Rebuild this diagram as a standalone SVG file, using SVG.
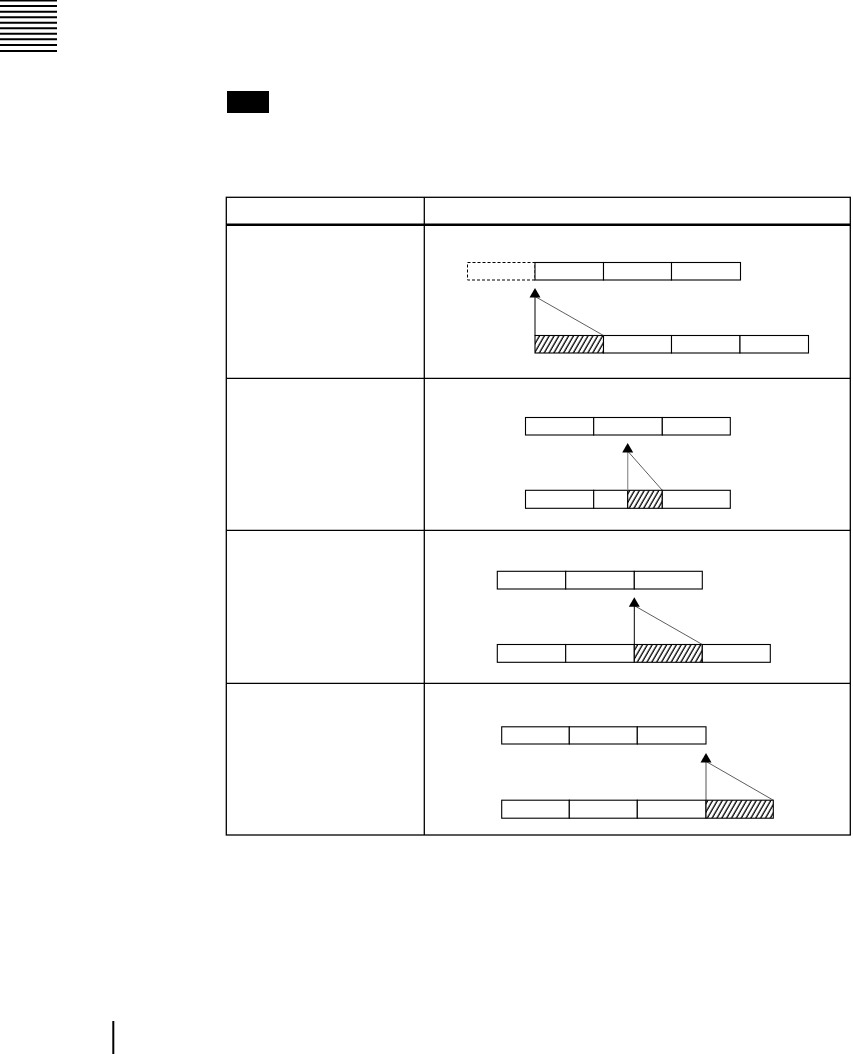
<svg xmlns="http://www.w3.org/2000/svg" width="853" height="1054" viewBox="0 0 853 1054">
<style>
.tbl{stroke:#000;stroke-width:1.3;fill:none}
.thick{stroke:#000;stroke-width:2.6;fill:none}
.box{stroke:#000;stroke-width:1.1;fill:#fff}
.dash{stroke:#000;stroke-width:1;fill:none;stroke-dasharray:3 2}
.hatch{stroke:#000;stroke-width:1.1;fill:url(#hatch)}
.up{stroke:#000;stroke-width:1;fill:none}
.diag{stroke:#333;stroke-width:0.8;fill:none}
.hdr{stroke:#000;stroke-width:2}
.head{fill:#000}
</style>
<defs>
<pattern id="hatch" patternUnits="userSpaceOnUse" width="4.2" height="10" patternTransform="rotate(30)">
<rect width="4.2" height="10" fill="#fff"/>
<line x1="1" y1="0" x2="1" y2="10" stroke="#000" stroke-width="1.3"/>
</pattern>
<path id="ah" d="M-5.5,9.5 L0,0 L5.5,9.5 Z"/>
</defs>
<rect width="853" height="1054" fill="#fff"/>
<g id="page-icon" class="hdr">
<line x1="0" y1="0.5" x2="57" y2="0.5"/>
<line x1="0" y1="6" x2="57" y2="6"/>
<line x1="0" y1="11.7" x2="57" y2="11.7"/>
<line x1="0" y1="17.2" x2="57" y2="17.2"/>
<line x1="0" y1="22.7" x2="57" y2="22.7"/>
<line x1="0" y1="28.3" x2="57" y2="28.3"/>
<line x1="0" y1="33.8" x2="57" y2="33.8"/>
<line x1="0" y1="39.3" x2="57" y2="39.3"/>
<line x1="0" y1="45" x2="57" y2="45"/>
<line x1="0" y1="51" x2="57" y2="51"/>
</g>
<g id="note-badge"><rect x="227" y="91" width="42" height="22" fill="#000"/></g>
<g id="table">
<rect class="tbl" x="226.3" y="197.3" width="624" height="637.7"/>
<line class="tbl" x1="424.3" y1="197.3" x2="424.3" y2="835"/>
<line class="thick" x1="226.3" y1="224.7" x2="850.3" y2="224.7"/>
<line class="tbl" x1="226.3" y1="378.3" x2="850.3" y2="378.3"/>
<line class="tbl" x1="226.3" y1="530.3" x2="850.3" y2="530.3"/>
<line class="tbl" x1="226.3" y1="683.3" x2="850.3" y2="683.3"/>
</g>
<g id="row1">
<rect class="dash" x="467.5" y="262.5" width="67.5" height="17.5"/>
<rect class="box" x="535" y="262.5" width="68.5" height="17.5"/>
<rect class="box" x="603.5" y="262.5" width="68" height="17.5"/>
<rect class="box" x="671.5" y="262.5" width="69" height="17.5"/>
<rect class="hatch" x="535" y="335.5" width="68.5" height="17.5"/>
<rect class="box" x="603.5" y="335.5" width="68" height="17.5"/>
<rect class="box" x="671.5" y="335.5" width="68.5" height="17.5"/>
<rect class="box" x="740" y="335.5" width="68.5" height="17.5"/>
</g>
<g id="row2">
<rect class="box" x="525.5" y="417.5" width="68.2" height="17.5"/>
<rect class="box" x="593.7" y="417.5" width="68.6" height="17.5"/>
<rect class="box" x="662.3" y="417.5" width="68" height="17.5"/>
<rect class="box" x="525.5" y="490.3" width="68.2" height="18"/>
<rect class="box" x="593.7" y="490.3" width="34" height="18"/>
<rect class="hatch" x="627.7" y="490.3" width="34.6" height="18"/>
<rect class="box" x="662.3" y="490.3" width="68" height="18"/>
</g>
<g id="row3">
<rect class="box" x="497.3" y="571.3" width="68.4" height="17.7"/>
<rect class="box" x="565.7" y="571.3" width="68.6" height="17.7"/>
<rect class="box" x="634.3" y="571.3" width="68" height="17.7"/>
<rect class="box" x="497.3" y="644.5" width="68.4" height="17.8"/>
<rect class="box" x="565.7" y="644.5" width="68.6" height="17.8"/>
<rect class="hatch" x="634.3" y="644.5" width="68" height="17.8"/>
<rect class="box" x="702.3" y="644.5" width="68" height="17.8"/>
</g>
<g id="row4">
<rect class="box" x="501.7" y="726.8" width="67.6" height="17.2"/>
<rect class="box" x="569.3" y="726.8" width="68" height="17.2"/>
<rect class="box" x="637.3" y="726.8" width="68.7" height="17.2"/>
<rect class="box" x="501.7" y="800.2" width="67.6" height="18"/>
<rect class="box" x="569.3" y="800.2" width="68" height="18"/>
<rect class="box" x="637.3" y="800.2" width="68.7" height="18"/>
<rect class="hatch" x="706" y="800.2" width="67.3" height="18"/>
</g>
<g id="connectors">
<line class="up" x1="535" y1="335.5" x2="535" y2="296"/>
<line class="diag" x1="536" y1="297" x2="603.5" y2="335.5"/>
<use href="#ah" class="head" x="535" y="288"/>
<line class="up" x1="627.7" y1="490.3" x2="627.7" y2="451" style="stroke:#999;stroke-width:1.3"/>
<line class="diag" x1="628.5" y1="452" x2="662.3" y2="490.3"/>
<use href="#ah" class="head" x="627.7" y="443"/>
<line class="up" x1="634.3" y1="644.5" x2="634.3" y2="605"/>
<line class="diag" x1="635" y1="606" x2="702.3" y2="644.5"/>
<use href="#ah" class="head" x="634.3" y="597.3"/>
<line class="up" x1="706" y1="800.2" x2="706" y2="761" style="stroke:#555"/>
<line class="diag" x1="707" y1="762" x2="773.3" y2="800.2"/>
<use href="#ah" class="head" x="706" y="753"/>
</g>
<g id="margin-bar"><line x1="113.3" y1="1021" x2="113.3" y2="1054" stroke="#000" stroke-width="2"/></g>
</svg>
